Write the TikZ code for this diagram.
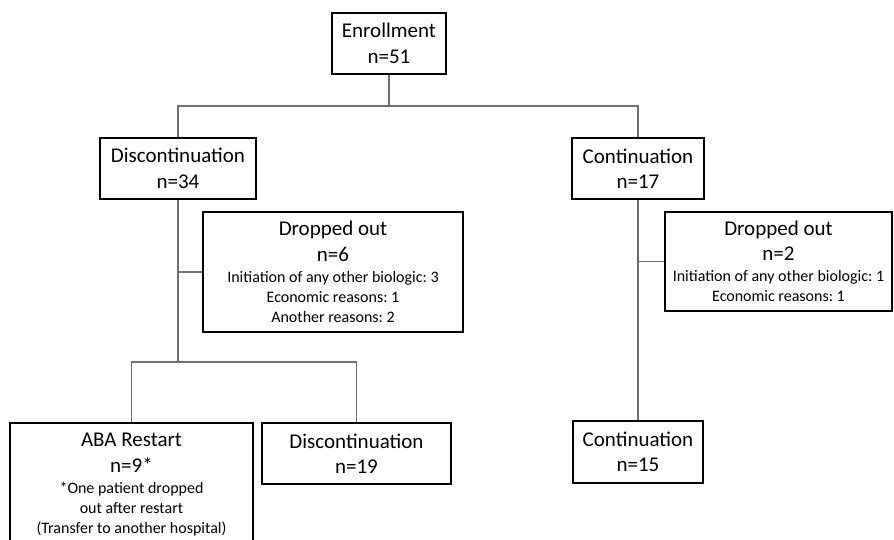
\documentclass[tikz,border=0pt]{standalone}
\usepackage{fontspec}
\setmainfont{Carlito}
\usepackage{xcolor}
\usepackage{tikz}
\usetikzlibrary{positioning,backgrounds}
\definecolor{linkc}{HTML}{6E6E6E}
\newcommand{\bigf}{\fontsize{21}{25.5}\selectfont}
\newcommand{\smallf}{\fontsize{16}{20}\selectfont}
\frenchspacing
\tikzset{
  box/.style={draw=black,line width=2.7pt,fill=white,align=center,inner sep=0pt,font=\bigf},
  lnk/.style={draw=linkc,line width=1.3pt}
}
\begin{document}
\begin{tikzpicture}[x=1pt,y=-1pt]
\useasboundingbox (0,0) rectangle (894,539);
\clip (0,0) rectangle (894,539);
% first level
\node[box,minimum width=114pt,minimum height=61pt] (enr) at (389,43.5) {Enrollment\\n=51};
\node[box,minimum width=156pt,minimum height=61pt] (disc) at (178,168.5) {Discontinuation\\n=34};
\node[box,minimum width=132pt,minimum height=61pt] (cont) at (638,168.5) {Continuation\\n=17};
% drop-outs
\node[box,minimum width=260pt,minimum height=120pt] (drop1) at (333,272)
  {Dropped out\\n=6\\[-4.5pt]{\smallf Initiation of any other biologic: 3}\\[-5.5pt]{\smallf Economic reasons: 1}\\[-5.5pt]{\smallf Another reasons: 2}};
\node[box,minimum width=227pt,minimum height=99pt] (drop2) at (778.5,261.5)
  {Dropped out\\n=2\\[-4.5pt]{\smallf Initiation of any other biologic: 1}\\[-5.5pt]{\smallf Economic reasons: 1}};
% last level
\node[box,minimum width=243pt,minimum height=123pt] (aba) at (131.5,484.5)
  {ABA Restart\\n=9*\\[-4.5pt]{\smallf *One patient dropped}\\[-5.5pt]{\smallf out after restart}\\[-5.5pt]{\smallf (Transfer to another hospital)}};
\node[box,minimum width=189pt,minimum height=61pt] (disc2) at (356.5,453.5) {Discontinuation\\n=19};
\node[box,minimum width=130pt,minimum height=62pt] (cont2) at (638,452) {Continuation\\n=15};
\coordinate (split) at (389,106);
\coordinate (dsplit) at (178,362);
\begin{scope}[on background layer]
\draw[lnk] (enr) -- (split);
\draw[lnk] (disc.north) |- (split) -| (cont.north);
\draw[lnk] (disc.south) -- (dsplit);
\draw[lnk] (aba.north) |- (dsplit) -| (disc2.north);
\draw[lnk] (drop1.west) -- (drop1.west -| disc.south);
\draw[lnk] (cont) -- (cont2);
\draw[lnk] (drop2.west) -- (drop2.west -| cont.south);
\end{scope}
\end{tikzpicture}
\end{document}
